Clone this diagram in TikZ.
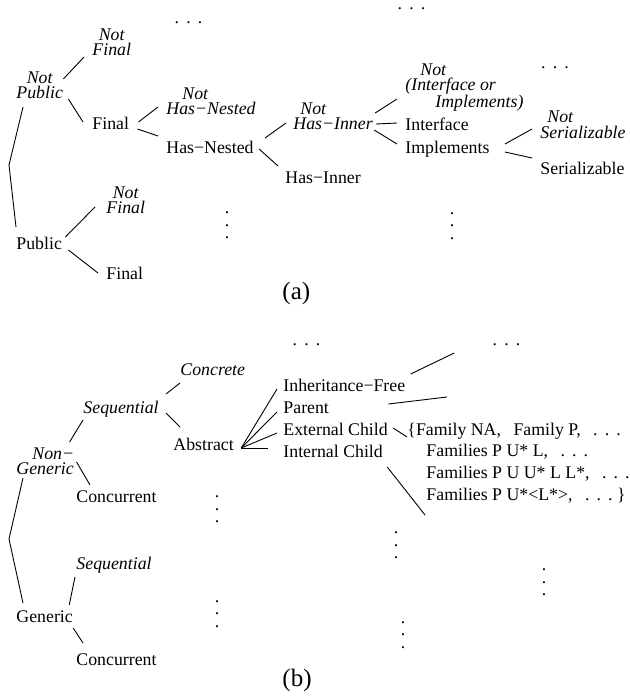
\documentclass[tikz,border=0pt]{standalone}
\usepackage{fontspec}
\setmainfont{Liberation Serif}
\newcommand\hdotz{.\hspace{0.4em}.\hspace{0.4em}.}
\newcommand\vdotz{\vbox{\baselineskip=12.5pt\lineskiplimit=0pt\hbox{.}\hbox{.}\hbox{.}}}
\newcommand\famgap{\hspace{0.7em}}

\begin{document}
\begin{tikzpicture}[%
        x=1pt, y=-1pt,
        line width=0.9pt,
        every node/.style={inner sep=0pt, font=\fontsize{17.8}{15}\selectfont},
        lab/.style={anchor=base west},
        neg/.style={anchor=base west, font=\fontsize{17.8}{15}\selectfont\itshape},
        dotrow/.style={anchor=center},
        dotcol/.style={anchor=center},
        tag/.style={anchor=base west, font=\fontsize{25}{30}\selectfont}
        ]

        \useasboundingbox (0,0) rectangle (629,698);

        % (a)
        \node[dotrow] (dA1) at (188.5,23) {\hdotz};
        \node[dotrow] (dA2) at (411.5,9) {\hdotz};
        \node[dotrow] (dA3) at (555,68) {\hdotz};
        \node[neg, align=center] (npub) at (16,99) {Not\\Public};
        \node[neg, align=center] (nfin1) at (92,56) {Not\\Final};
        \node[lab] (fin1) at (92,129) {Final};
        \node[lab] (pub) at (16,249) {Public};
        \node[neg, align=center] (nfin2) at (106,213) {Not\\Final};
        \node[lab] (fin2) at (106,279) {Final};
        \node[neg, align=left] (nhn) at (166,114) {\hspace*{16pt}Not\\Has−Nested};
        \node[lab] (hn) at (166,153) {Has−Nested};
        \node[neg, align=left] (nhi) at (293,129) {\hspace*{7pt}Not\\Has−Inner};
        \node[lab] (hi) at (285,183) {Has−Inner};
        \node[neg, align=left] (nii) at (405,108) {\hspace*{15pt}Not\\(Interface or\\\hspace*{30pt}Implements)};
        \node[lab] (itf) at (405,130) {Interface};
        \node[lab] (imp) at (405,153) {Implements};
        \node[neg, align=left] (nser) at (540,138) {\hspace*{7pt}Not\\Serializable};
        \node[lab] (ser) at (540,174) {Serializable};
        \node[dotcol] (vA1) at (227,225.5) {\vdotz};
        \node[dotcol] (vA2) at (452,226) {\vdotz};
        \node[tag] (capA) at (282,299) {(a)};
        \coordinate (kinkA) at (9,165);

        \draw ([shift={(0,-20)}]npub.base east) -- ([shift={(-8,1)}]nfin1.base west);
        \draw ([shift={(5,0)}]npub.base east) -- ([shift={(-9,-7)}]fin1.base west);
        \draw ([shift={(7,8)}]npub.base west) -- (kinkA) -- ([shift={(0,-22)}]pub.base west);
        \draw ([shift={(3,-12)}]pub.base east) -- ([shift={(-11,-6)}]nfin2.base west);
        \draw ([shift={(6,1)}]pub.base east) -- ([shift={(-8,-6)}]fin2.base west);
        \draw ([shift={(9,-7)}]fin1.base east) -- ([shift={(-8,-7)}]nhn.base west);
        \draw ([shift={(8,0)}]fin1.base east) -- ([shift={(-8,-17)}]hn.base west);
        \draw ([shift={(11,-15)}]hn.base east) -- ([shift={(-7,-6)}]nhi.base west);
        \draw ([shift={(5,-4)}]hn.base east) -- ([shift={(-7,-17)}]hi.base west);
        \draw ([shift={(2,-16)}]nhi.base east) -- ([shift={(-8,-9)}]nii.base west);
        \draw ([shift={(3,-5)}]nhi.base east) -- ([shift={(-8,-7)}]itf.base west);
        \draw ([shift={(1,1)}]nhi.base east) -- ([shift={(-8,-9)}]imp.base west);
        \draw ([shift={(15,-9)}]imp.base east) -- ([shift={(-8,-9)}]nser.base west);
        \draw ([shift={(15,-1)}]imp.base east) -- ([shift={(-8,-16)}]ser.base west);

        % (b)
        \node[dotrow] (dB1) at (306.5,345) {\hdotz};
        \node[dotrow] (dB2) at (506.5,345) {\hdotz};
        \node[neg] (conc) at (180,375) {Concrete};
        \node[neg] (seq1) at (83,413) {Sequential};
        \node[lab] (abs) at (173,450) {Abstract};
        \node[neg, align=left] (ngen) at (16,474) {\hspace*{16pt}Non−\\Generic};
        \node[lab] (conc1) at (76,502) {Concurrent};
        \node[neg] (seq2) at (76,569) {Sequential};
        \node[lab] (gen) at (16,622) {Generic};
        \node[lab] (conc2) at (76,665) {Concurrent};
        \node[lab] (inh) at (283,391) {Inheritance−Free};
        \node[lab] (par) at (283,413) {Parent};
        \node[lab] (ext) at (283,435) {External Child};
        \node[lab] (int) at (283,457) {Internal Child};
        \node[lab, align=left, font=\fontsize{17.8}{21.8}\selectfont] (fam) at (407,500.4)
            {\{Family NA,\famgap Family P,\famgap\hdotz\\
             \hspace*{19pt}Families P U* L,\famgap\hdotz\\
             \hspace*{19pt}Families P U U* L L*,\famgap\hdotz\\
             \hspace*{19pt}Families P U*<L*>,\famgap\hdotz\ \}};
        \node[dotcol] (vB1) at (217,509.5) {\vdotz};
        \node[dotcol] (vB2) at (217,614) {\vdotz};
        \node[dotcol] (vB3) at (396,545.5) {\vdotz};
        \node[dotcol] (vB4) at (544,582.5) {\vdotz};
        \node[dotcol] (vB5) at (403,635) {\vdotz};
        \node[tag] (capB) at (282,686) {(b)};
        \coordinate (kinkB) at (9,539);
        \coordinate (endPar) at (447,397);
        \coordinate (endInt) at (425,515);

        \draw ([shift={(-5,-32)}]ngen.base east) -- ([shift={(0,7)}]seq1.base west);
        \draw ([shift={(7,-19)}]seq1.base east) -- ([shift={(0,8)}]conc.base west);
        \draw ([shift={(7,0)}]seq1.base east) -- ([shift={(7,-23)}]abs.base west);
        \draw ([shift={(2,-12)}]ngen.base east) -- ([shift={(14,-17)}]conc1.base west);
        \draw ([shift={(7,4)}]ngen.base west) -- (kinkB) -- ([shift={(7,-19)}]gen.base west);
        \draw ([shift={(-4,-17)}]gen.base east) -- ([shift={(-1,8)}]seq2.base west);
        \draw ([shift={(0,6)}]gen.base east) -- ([shift={(7,-22)}]conc2.base west);
        \draw ([shift={(7,-2)}]abs.base east) -- ([shift={(-6,-2)}]inh.base west);
        \draw ([shift={(7,-2)}]abs.base east) -- ([shift={(-6,-1)}]par.base west);
        \draw ([shift={(7,-2)}]abs.base east) -- ([shift={(-6,-2)}]ext.base west);
        \draw ([shift={(7,-2)}]abs.base east) -- ([shift={(-15,-9)}]int.base west);
        \draw ([shift={(5,-17)}]inh.base east) -- ([shift={(-38,8)}]dB2.west);
        \draw ([shift={(59,-9)}]par.base east) -- (endPar);
        \draw ([shift={(5,-7)}]ext.base east) -- ([shift={(0,-63.4)}]fam.base west);
        \draw ([shift={(4,10)}]int.base east) -- (endInt);

        \end{tikzpicture}
\end{document}
